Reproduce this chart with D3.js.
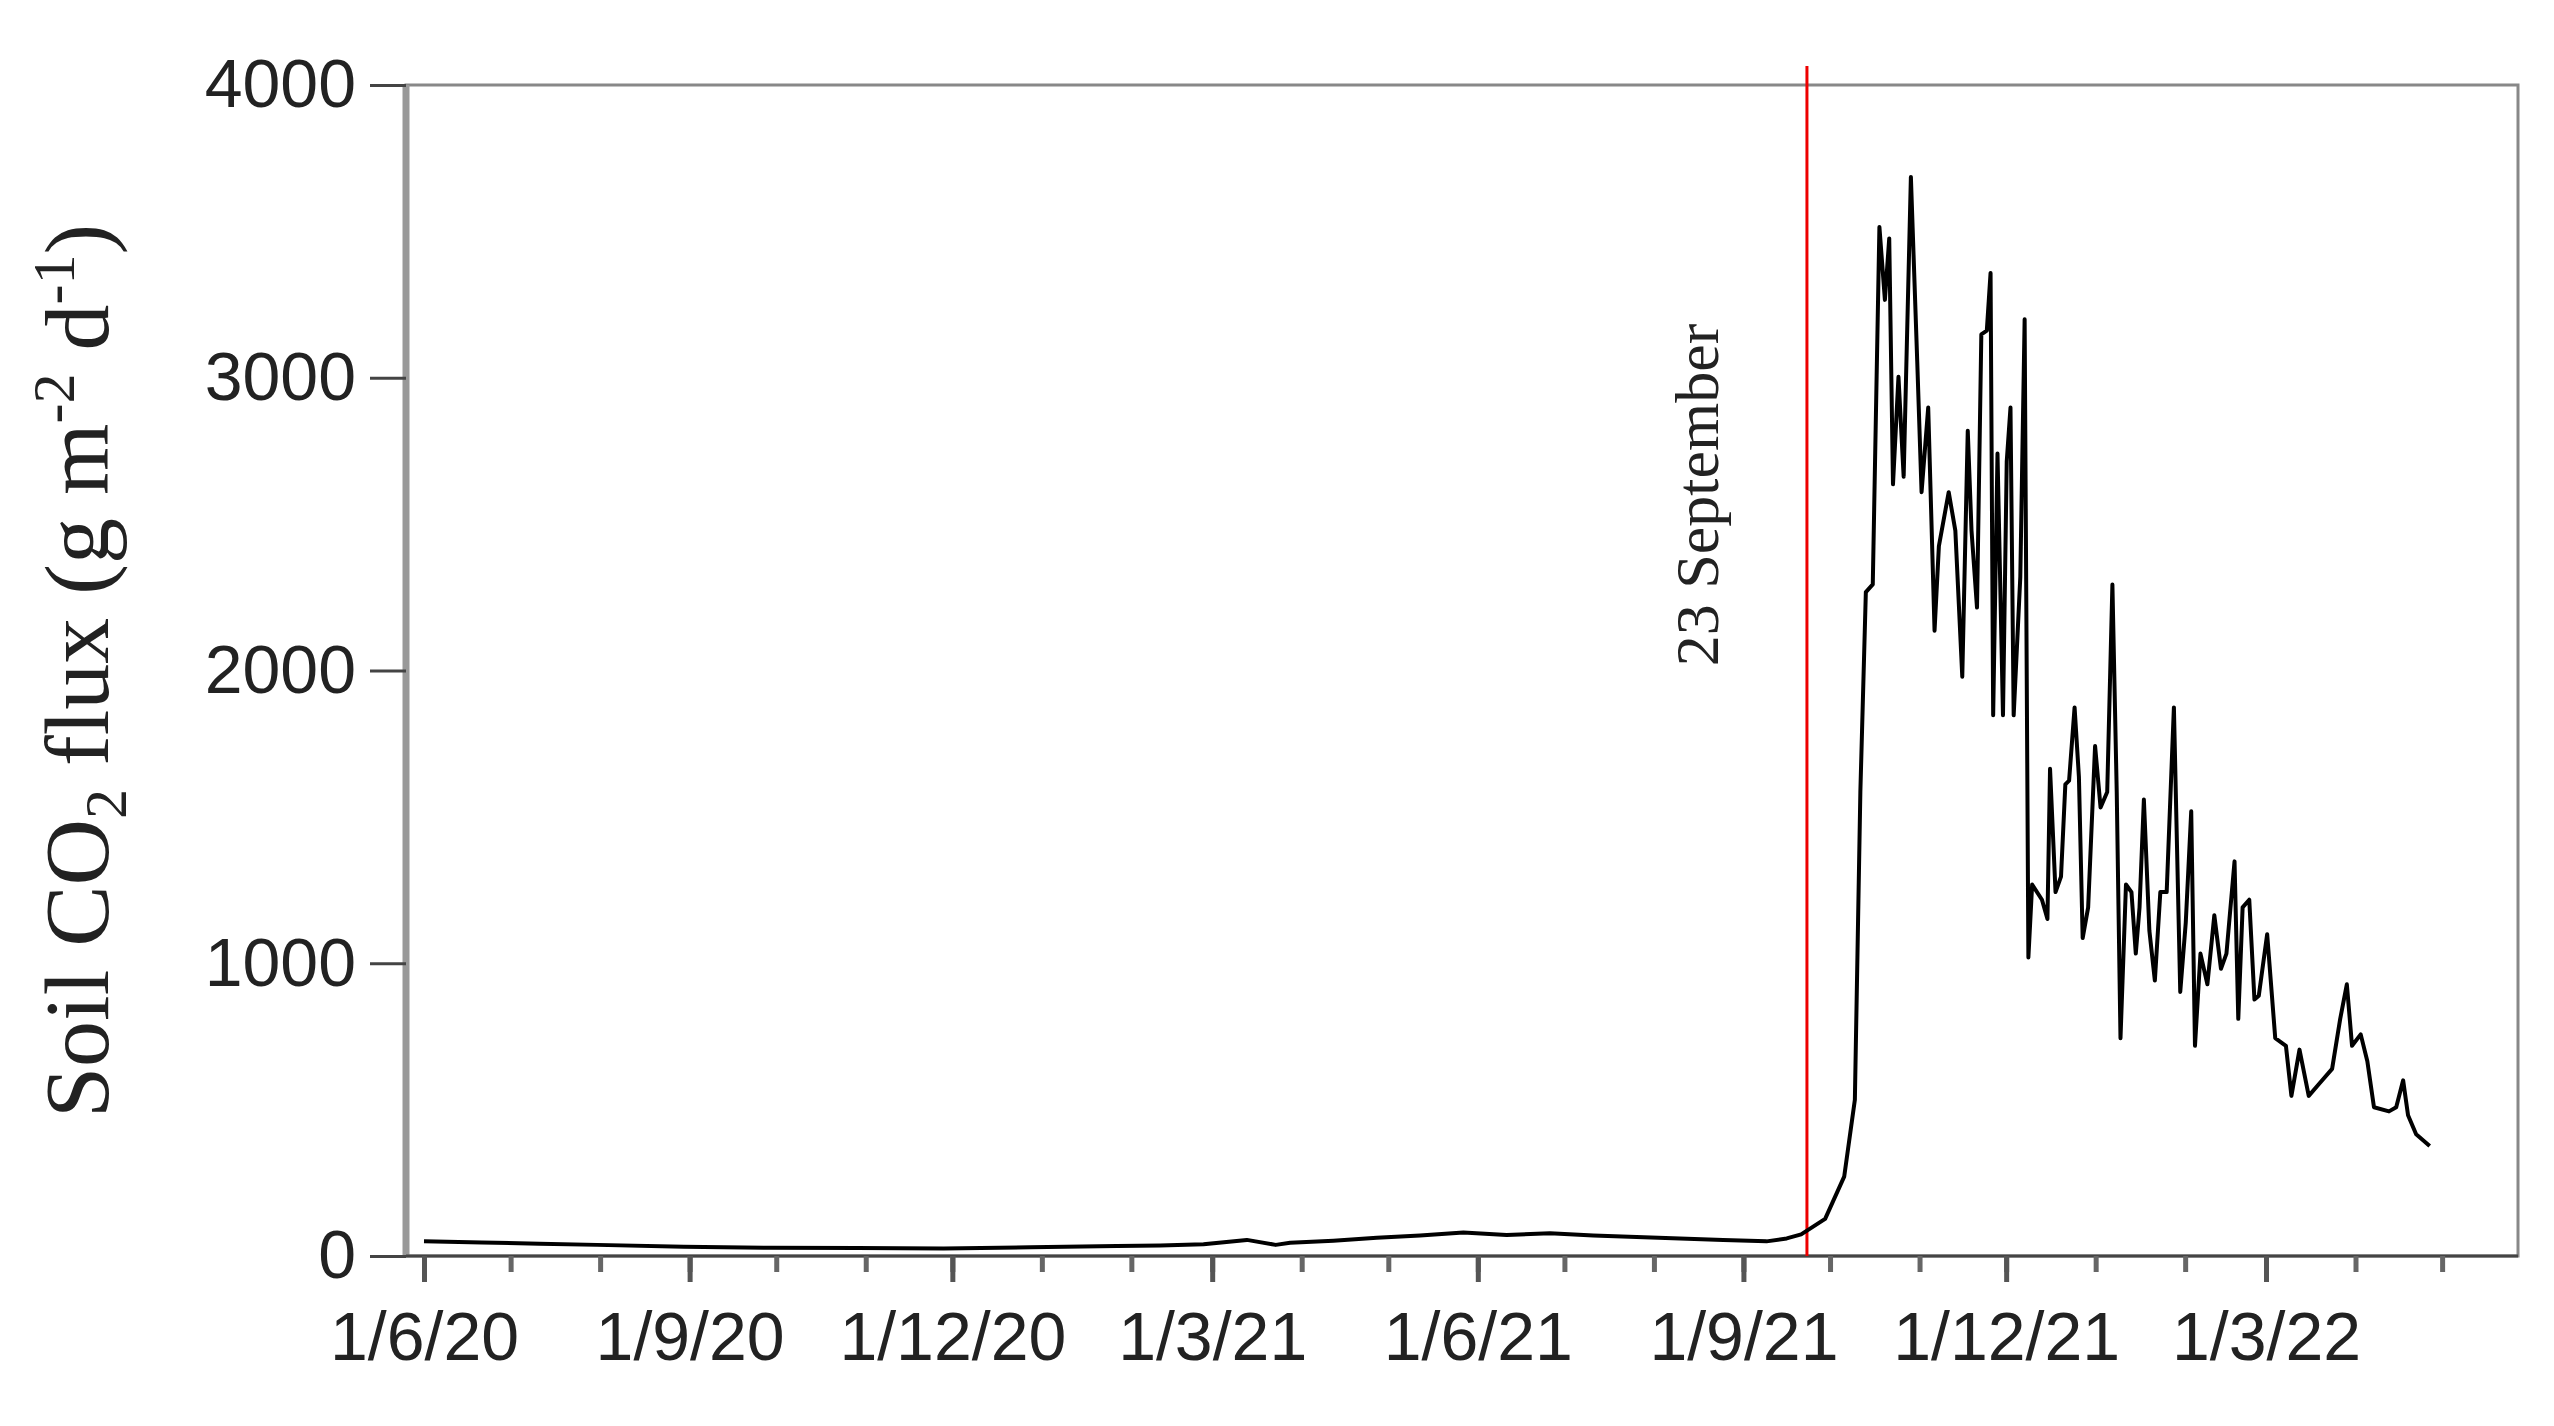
<!DOCTYPE html>
<html><head><meta charset="utf-8">
<script src="https://cdn.jsdelivr.net/npm/d3@7"></script>
<style>body{margin:0;background:#fff}</style>
</head><body>
<script>
// days since 1 June 2020, flux values (g m-2 d-1)
const days = [0,20,40,60,90,120,150,180,210,240,255,270,285,295,300,315,330,345,360,375,390,405,420,435,450,465,472,477,
485.3,491.9,495.6,497.5,499.4,501.8,504.1,506,507.5,508.8,510.7,512.5,515,517.2,518.7,521,523.2,524.7,528.1,530.4,532.8,534.7,536,537.9,539.4,541.3,542.6,543.5,545,546.9,548.2,549.5,550.6,552.9,554.4,555.7,557,560.4,562.3,563.2,565.1,567,568.5,569.8,571.7,573.2,574.5,576.4,578.8,580.7,583,584.8,586.3,587.6,589.5,591.4,592.9,594.2,595.7,597.6,599.5,601.4,603.6,606.1,608.3,610.2,612.1,613.4,615.3,617.7,620.1,622.4,624.3,627.1,628.4,629.9,632.2,634,635.5,638.4,641.2,644.9,646.8,649.6,652.8,656.2,660.9,663.7,666,667.8,670.8,673.1,675.4,680.6,683.1,685.5,687.2,690,694.7];
const flux = [50,46,42,38,32,28,27,26,30,34,36,40,55,38,45,52,62,70,80,72,78,70,65,60,55,50,60,74,
127,271,534,1585,2268,2294,3515,3266,3476,2636,3003,2662,3686,3056,2609,2898,2136,2425,2609,2478,1979,2819,2478,2215,3148,3161,3358,1847,2741,1847,2714,2898,1847,2320,3200,1020,1269,1217,1151,1664,1243,1296,1611,1624,1874,1637,1086,1191,1742,1532,1585,2294,1585,744,1269,1243,1033,1191,1559,1112,941,1243,1243,1874,902,1138,1519,718,1033,928,1164,981,1033,1348,810,1191,1217,876,889,1099,744,718,547,705,547,586,639,810,928,718,757,665,508,494,508,600,481,416,376];
const yTicks = [0,1000,2000,3000,4000];
const xTickDates = ['2020-06-01','2020-09-01','2020-12-01','2021-03-01','2021-06-01','2021-09-01','2021-12-01','2022-03-01'];
const xTickLabels = ['1/6/20','1/9/20','1/12/20','1/3/21','1/6/21','1/9/21','1/12/21','1/3/22'];
const eventDate = '2021-09-23';

const W = 2554, H = 1426;
const mLeft = 406, mRight = 2518, mTop = 85, mBottom = 1256;
const start = new Date(2020, 5, 1);
const parse = s => { const [yy, mm, dd] = s.split('-').map(Number); return new Date(yy, mm - 1, dd); };
const dayDate = d => new Date(start.getTime() + d * 86400000);

const x = d3.scaleTime().domain([start, parse('2022-03-01')]).range([424, 2266]);
const y = d3.scaleLinear().domain([0, 4000]).range([mBottom, mTop]);

const svg = d3.select('body').append('svg').attr('width', W).attr('height', H)
  .style('font-family', '"Liberation Serif", "DejaVu Serif", serif');

// frame
svg.append('rect').attr('x', mLeft).attr('y', mTop).attr('width', mRight - mLeft).attr('height', mBottom - mTop)
  .attr('fill', 'none').attr('stroke', '#888').attr('stroke-width', 3);
svg.append('line').attr('x1', mLeft).attr('x2', mLeft).attr('y1', mTop).attr('y2', mBottom)
  .attr('stroke', '#999').attr('stroke-width', 7);

// y axis
const gy = svg.append('g').attr('transform', `translate(${mLeft},0)`)
  .call(d3.axisLeft(y).tickValues(yTicks).tickSize(36).tickPadding(14).tickFormat(d3.format('d')));
gy.select('.domain').remove();
gy.selectAll('line').attr('stroke', '#444').attr('stroke-width', 3);
gy.selectAll('text').attr('font-size', 68).attr('fill', '#222').attr('font-family', 'inherit');

// x axis: monthly minor ticks, labelled every 3 months
const months = d3.timeMonth.range(start, parse('2022-05-02'));
const gx = svg.append('g').attr('transform', `translate(0,${mBottom})`)
  .call(d3.axisBottom(x).tickValues(months).tickSize(16).tickFormat(''));
gx.select('.domain').attr('stroke', '#444').attr('stroke-width', 3).attr('d', `M${mLeft},0H${mRight}`);
gx.selectAll('line').attr('stroke', '#666').attr('stroke-width', 5);
const gx2 = svg.append('g').attr('transform', `translate(0,${mBottom})`)
  .call(d3.axisBottom(x).tickValues(xTickDates.map(parse)).tickSize(26).tickPadding(30)
    .tickFormat((d, i) => xTickLabels[i]));
gx2.select('.domain').remove();
gx2.selectAll('line').attr('stroke', '#555').attr('stroke-width', 5);
gx2.selectAll('text').attr('font-size', 68).attr('fill', '#222').attr('font-family', 'inherit');

// event line
const ex = x(parse(eventDate));
svg.append('line').attr('x1', ex).attr('x2', ex).attr('y1', 66).attr('y2', mBottom)
  .attr('stroke', '#e00').attr('stroke-width', 3);
svg.append('text').attr('transform', `translate(1718,495) rotate(-90)`).attr('text-anchor', 'middle')
  .attr('font-size', 62).attr('fill', '#222').text('23 September');

// series
const line = d3.line().x((d, i) => x(dayDate(days[i]))).y(d => y(d));
svg.append('path').datum(flux).attr('d', line).attr('fill', 'none')
  .attr('stroke', '#000').attr('stroke-width', 4).attr('stroke-linejoin', 'round');

// y title
const t = svg.append('text').attr('transform', `translate(108,671) rotate(-90)`).attr('text-anchor', 'middle')
  .attr('font-size', 92).attr('fill', '#222');
t.append('tspan').text('Soil CO');
t.append('tspan').attr('font-size', 60).attr('dy', 18).text('2');
t.append('tspan').attr('dy', -18).text(' flux (g m');
t.append('tspan').attr('font-size', 60).attr('dy', -34).text('-2');
t.append('tspan').attr('dy', 34).text(' d');
t.append('tspan').attr('font-size', 60).attr('dy', -34).text('-1');
t.append('tspan').attr('dy', 34).text(')');
</script>
</body></html>
